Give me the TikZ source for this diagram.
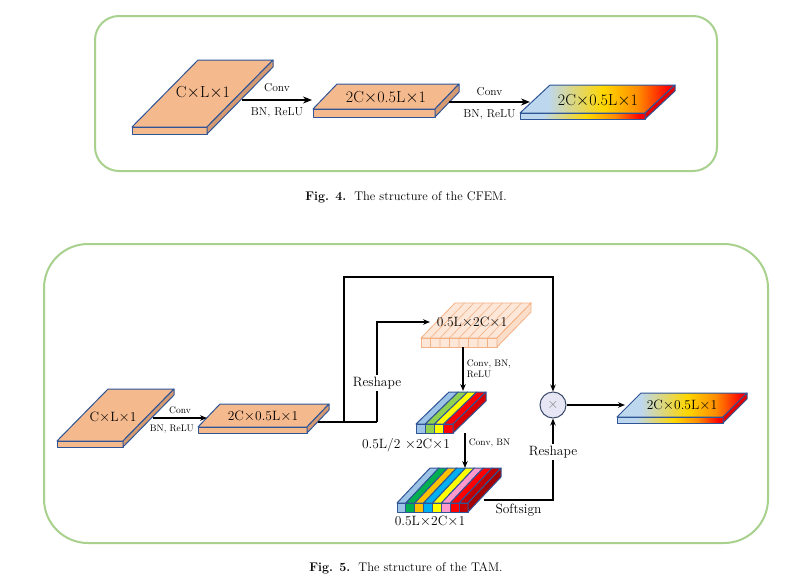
\documentclass[tikz,border=0pt]{standalone}
\usepackage{tikz}
\usetikzlibrary{arrows.meta, positioning}
\definecolor{framegreen}{HTML}{A9D18E}
\definecolor{peach}{HTML}{F5B98E}
\definecolor{peachside}{HTML}{D69A70}
\definecolor{slabblue}{HTML}{2F5597}
\definecolor{gridfill}{HTML}{FDE7D8}
\definecolor{gridline}{HTML}{F4B183}
\definecolor{heatblue}{HTML}{BDD7EE}
\definecolor{heatyellow}{HTML}{FFD700}
\definecolor{heatorange}{HTML}{FF8C00}
\definecolor{heatred}{HTML}{FF0000}
\definecolor{stripeblue}{HTML}{9DC3E6}
\definecolor{stripelgreen}{HTML}{92D050}
\definecolor{stripegreen}{HTML}{00B050}
\definecolor{stripeorange}{HTML}{FFC000}
\definecolor{stripesky}{HTML}{00B0F0}
\definecolor{stripeyellow}{HTML}{FFFF00}
\definecolor{stripepink}{HTML}{FF99CC}
\definecolor{stripered}{HTML}{FF0000}
\definecolor{stripedred}{HTML}{C00000}
\definecolor{mulfill}{HTML}{E6E6F4}
\definecolor{mulline}{HTML}{3B4A6B}
\pgfdeclarehorizontalshading{heatmap}{100bp}{color(0bp)=(heatblue); color(25bp)=(heatblue); color(34bp)=(heatblue); color(52bp)=(heatyellow); color(63bp)=(heatorange); color(73bp)=(heatred); color(100bp)=(heatred)}
\tikzset{>={Stealth[length=7pt,width=5.5pt]},
  panelframe/.style={draw=framegreen, line width=2pt},
  slabline/.style={draw=slabblue, line width=1pt, line join=round},
  flow/.style={line width=1.1pt},
  flowbig/.style={line width=1.5pt, -{Stealth[length=9pt,width=7pt]}},
  bigtext/.style={font=\fontsize{16}{18}\selectfont},
  midtext/.style={font=\fontsize{13.5}{15}\selectfont},
  smalltext/.style={font=\fontsize{11.5}{13}\selectfont},
  tinytext/.style={font=\fontsize{9.5}{11}\selectfont},
  captext/.style={font=\fontsize{12.5}{14}\selectfont}}
% slab: x0, y0 (front top left), width, dx, dy, thickness, top/front fill, side fill
\newcommand{\slabbox}[8]{%
  \path[slabline,#7] (#1,#2) -- ++(#3,0) -- ++(#4,-#5) -- ++(-#3,0) -- cycle;
  \path[slabline,#7] (#1,#2) rectangle ++(#3,#6);
  \path[slabline,#8] (#1+#3,#2) -- ++(#4,-#5) -- ++(0,#6) -- ++(-#4,#5) -- cycle;}
% striped block: x0, y0, cell width, dx, dy, thickness, colours, total width, side colour
\newcommand{\stripebox}[9]{%
  \foreach \c [count=\i from 0] in {#7}{
    \filldraw[slabline, fill=\c] (#1+\i*#3,#2) -- ++(#3,0) -- ++(#4,-#5) -- ++(-#3,0) -- cycle;
    \filldraw[slabline, fill=\c] (#1+\i*#3,#2) rectangle ++(#3,#6);
  }
  \filldraw[slabline, fill=#9] (#1+#8,#2) -- ++(#4,-#5) -- ++(0,#6) -- ++(-#4,#5) -- cycle;}

\begin{document}
\begin{tikzpicture}[x=1pt,y=-1pt]
\useasboundingbox[fill=white] (0,0) rectangle (790,581);

% CFEM
\draw[panelframe, rounded corners=24pt] (95,16) rectangle (717,171);
\slabbox{132}{127}{75}{66}{67}{7}{fill=peach}{fill=peachside}
\node[bigtext] (cfemIn) at (203,93) {C$\times$L$\times$1};
\slabbox{313}{109}{122}{24}{25}{8}{fill=peach}{fill=peachside}
\node[bigtext] (cfemMid) at (386,98) {2C$\times$0.5L$\times$1};
\slabbox{520}{113}{125}{30}{28}{6}{shading=heatmap}{fill=heatred!90!black}
\node[bigtext] (cfemOut) at (598,101) {2C$\times$0.5L$\times$1};
\coordinate (cfemA) at (242,100);
\coordinate (cfemB) at (312,100);
\coordinate (cfemC) at (449,102);
\coordinate (cfemD) at (530,102);
\draw[flowbig] (cfemA) -- (cfemB)
  node[midway, above=4pt, smalltext] {Conv}
  node[midway, below=4pt, smalltext] {BN, ReLU};
\draw[flowbig] (cfemC) -- (cfemD)
  node[midway, above=2pt, smalltext] {Conv}
  node[midway, below=4pt, smalltext] {BN, ReLU};
\node[captext] (capA) at (406,197) {\textbf{Fig. 4.}\ \ The structure of the CFEM.};

% TAM
\draw[panelframe, rounded corners=44pt] (44,244) rectangle (768,543);
\slabbox{57}{441}{66}{51}{52}{6}{fill=peach}{fill=peachside}
\node[midtext] (tamIn) at (113,417) {C$\times$L$\times$1};
\slabbox{198}{427}{109}{22}{23}{6}{fill=peach}{fill=peachside}
\node[midtext] (tamMid) at (263,416) {2C$\times$0.5L$\times$1};
\coordinate (tamA) at (153,418);
\coordinate (tamB) at (207,418);
\draw[flow,->] (tamA) -- (tamB)
  node[midway, above, tinytext] {Conv}
  node[pos=0.35, below=3pt, tinytext] {BN, ReLU};

% skip branch and reshape branch
\coordinate (tamOut) at (318,422);
\coordinate (split) at (344,422);
\coordinate (toGrid) at (377,422);
\coordinate (skipTop) at (553,277);
\coordinate (gridIn) at (430,322);
\draw[flow] (tamOut) -- (toGrid);
\node[midtext, inner sep=2pt] (rsA) at (377,383) {Reshape};
\draw[flow] (toGrid) -- (rsA);
\draw[flow,->] (rsA) |- (gridIn);
\node[circle, draw=mulline, fill=mulfill, line width=1pt, minimum size=26pt, inner sep=0pt,
  font=\fontsize{15}{15}\selectfont, text=gray] (mul) at (553,405) {$\times$};
\draw[flow,->] (split) |- (skipTop) -- (mul);

% reshaped block
\filldraw[draw=gridline, fill=gridfill, line width=0.8pt] (421,338) -- ++(76,0) -- ++(34,-35) -- ++(-76,0) -- cycle;
\filldraw[draw=gridline, fill=gridfill, line width=0.8pt] (421,338) rectangle ++(76,9);
\filldraw[draw=gridline, fill=gridfill!80!peach, line width=0.8pt] (497,338) -- ++(34,-35) -- ++(0,9) -- ++(-34,35) -- cycle;
\foreach \k in {1,...,7}
  \draw[gridline, line width=0.6pt] (421+\k*9.5,347) -- ++(0,-9) -- ++(34,-35);
\node[midtext] (gridTxt) at (472,322) {0.5L$\times$2C$\times$1};

\coordinate (gridOut) at (463,347);
\coordinate (blkAIn) at (463,391);
\draw[flow,->] (gridOut) -- (blkAIn)
  node[midway, right, tinytext, align=left] {Conv, BN,\\ReLU};
\stripebox{416}{424}{9.25}{33}{32}{9}{stripeblue,stripelgreen,stripeyellow,stripered}{37}{stripered!85!black}
\node[midtext] (blkATxt) at (406,445) {0.5L/2 $\times$2C$\times$1};

\coordinate (blkAOut) at (465,433);
\coordinate (blkBIn) at (465,468);
\draw[flow,->] (blkAOut) -- (blkBIn)
  node[pos=0.3, right, tinytext] {Conv, BN};
\stripebox{397}{503}{8.875}{33}{35}{9}{stripeblue,stripegreen,stripeorange,stripesky,stripeyellow,stripepink,stripered,stripedred}{71}{stripedred!85!black}
\node[midtext] (blkBTxt) at (430,521) {0.5L$\times$2C$\times$1};

\coordinate (blkBOut) at (484,500);
\node[midtext, inner sep=2pt] (rsB) at (553,452) {Reshape};
\draw[flow] (blkBOut) -| (rsB)
  node[pos=0.25, below, midtext] {Softsign};
\draw[flow,->] (rsB) -- (mul);

\coordinate (outIn) at (625,405);
\draw[flow,->] (mul) -- (outIn);
\slabbox{617}{417}{106}{24}{24}{6}{shading=heatmap}{fill=heatred!90!black}
\node[midtext] (tamOutTxt) at (682,405) {2C$\times$0.5L$\times$1};
\node[captext] (capB) at (406,568) {\textbf{Fig. 5.}\ \ The structure of the TAM.};
\end{tikzpicture}
\end{document}
